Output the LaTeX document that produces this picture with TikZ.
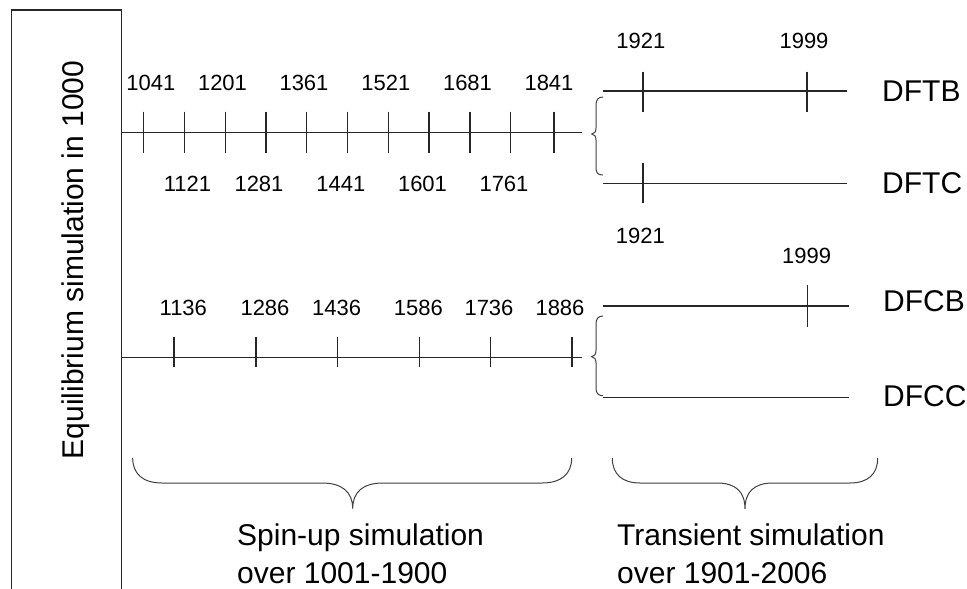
\documentclass[tikz,border=0pt]{standalone}
\usepackage{fontspec}
\setmainfont{Liberation Sans}
\begin{document}
\begin{tikzpicture}[x=1pt,y=-1pt,
  line/.style={line width=1.2pt,black!85},
  bracestyle/.style={line width=1pt,black!75},
  yearlbl/.style={inner sep=0pt,anchor=base,font=\fontsize{22}{26}\selectfont},
  runlbl/.style={inner sep=0pt,anchor=base west,font=\fontsize{30}{36}\selectfont}]
\useasboundingbox (0,0) rectangle (967,589);
\fill[white] (0,0) rectangle (967,589);
\clip (0,0) rectangle (967,589);
% equilibrium box
\draw[line] (11.7,10) rectangle (121.7,640);
\node[inner sep=0pt,anchor=base,rotate=90,font=\fontsize{30}{36}\selectfont] (eq) at (83.3,260) {Equilibrium simulation in 1000};
% top spin-up timeline
\coordinate (t1s) at (121.7,132.5);
\coordinate (t1e) at (582.3,132.5);
\draw[line] (t1s) -- (t1e);
\foreach \x in {143.7,184.3,225.3,266,306.7,347.3,388.3,429,470,510.7,554}
  \draw[line] (\x,111.7) -- (\x,153.3);
\foreach \x/\t in {150.8/1041,222.5/1201,304/1361,385.8/1521,467.5/1681,549/1841}
  \node[yearlbl] (a\t) at (\x,90) {\t};
\foreach \x/\t in {187.5/1121,259/1281,340.8/1441,422.5/1601,504/1761}
  \node[yearlbl] (b\t) at (\x,191.7) {\t};
% bottom spin-up timeline
\coordinate (t2s) at (121.7,357.3);
\coordinate (t2e) at (582.3,357.3);
\draw[line] (t2s) -- (t2e);
\foreach \x in {174,256,337.7,419.3,490.7,572}
  \draw[line] (\x,336.7) -- (\x,367.3);
\foreach \x/\t in {183.3/1136,265/1286,336.7/1436,418.3/1586,489/1736,560/1886}
  \node[yearlbl] (c\t) at (\x,315) {\t};
% small braces
\draw[bracestyle] (603,97) .. controls (598,97) and (596,100) .. (596,105) -- (596,128)
  .. controls (596,131.5) and (594.5,134) .. (591.7,134)
  .. controls (594.5,134) and (596,136.5) .. (596,140) -- (596,168)
  .. controls (596,173) and (598,175) .. (603,175);
\draw[bracestyle] (603,316) .. controls (598,316) and (596,319) .. (596,324) -- (596,350)
  .. controls (596,354) and (594.5,356.7) .. (591.7,356.7)
  .. controls (594.5,356.7) and (596,359.5) .. (596,363) -- (596,388)
  .. controls (596,393) and (598,395.7) .. (603,395.7);
% transient lines
\coordinate (dftbS) at (603,91);   \coordinate (dftbE) at (847,91);
\coordinate (dftcS) at (603,183.3); \coordinate (dftcE) at (847,183.3);
\coordinate (dfcbS) at (603,306);  \coordinate (dfcbE) at (849,306);
\coordinate (dfccS) at (603,397.3); \coordinate (dfccE) at (849,397.3);
\draw[line] (dftbS) -- (dftbE);
\draw[line] (dftcS) -- (dftcE);
\draw[line] (dfcbS) -- (dfcbE);
\draw[line] (dfccS) -- (dfccE);
\draw[line] (643,71.7) -- (643,111.7);
\draw[line] (807,71.7) -- (807,111.7);
\draw[line] (643,163) -- (643,203);
\draw[line] (807.7,285) -- (807.7,326.7);
\node[yearlbl] (y1921a) at (640.8,48.3) {1921};
\node[yearlbl] (y1999a) at (804,48.3) {1999};
\node[yearlbl] (y1921b) at (640.3,243.3) {1921};
\node[yearlbl] (y1999b) at (806.7,263.3) {1999};
\node[runlbl] (dftb) at (882,101.7) {DFTB};
\node[runlbl] (dftc) at (882,193.3) {DFTC};
\node[runlbl] (dfcb) at (883,311.7) {DFCB};
\node[runlbl] (dfcc) at (883,406.7) {DFCC};
% large braces
\draw[bracestyle] (132.7,458) .. controls (132.7,474) and (143,483) .. (162,483) -- (322,483)
  .. controls (342,483) and (352.7,492) .. (352.7,508.5)
  .. controls (352.7,492) and (363,483) .. (383,483) -- (542,483)
  .. controls (561,483) and (571.7,474) .. (571.7,458);
\draw[bracestyle] (612.3,458) .. controls (612.3,474) and (622,483) .. (640,483) -- (717,483)
  .. controls (736,483) and (745,492) .. (745,509)
  .. controls (745,492) and (754,483) .. (773,483) -- (850,483)
  .. controls (868,483) and (877.7,474) .. (877.7,458);
\node[runlbl] (spin1) at (237,545.5) {Spin-up simulation};
\node[runlbl] (spin2) at (237,583.5) {over 1001-1900};
\node[runlbl] (trans1) at (617,545.5) {Transient simulation};
\node[runlbl] (trans2) at (617,583.5) {over 1901-2006};
\end{tikzpicture}
\end{document}
